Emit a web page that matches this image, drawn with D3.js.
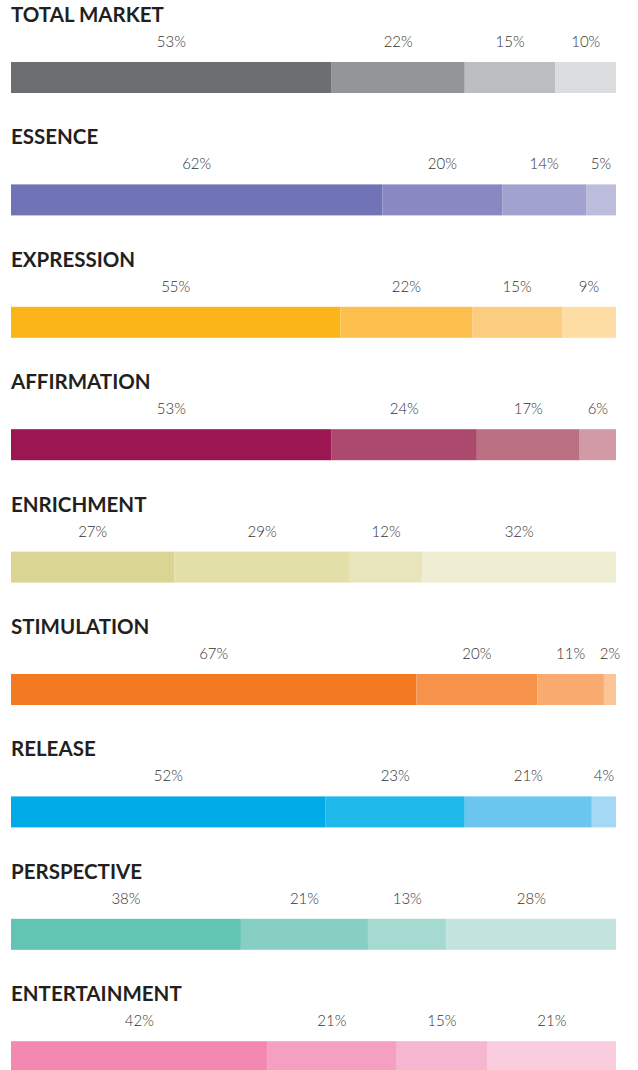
<!DOCTYPE html>
<html>
<head>
<meta charset="utf-8">
<script src="https://cdn.jsdelivr.net/npm/d3@7"></script>
<style>
  html, body { margin: 0; padding: 0; background: #ffffff; }
  svg { display: block; }
  .title { font-family: Lato, "Open Sans", sans-serif; font-weight: 700; font-size: 20.5px; fill: #231f20; }
  .pct { font-family: Lato, "Open Sans", sans-serif; font-weight: 300; font-size: 15px; fill: #333333; }
</style>
</head>
<body>
<svg id="chart" width="638" height="1070"></svg>
<script>
// Segment shares per category (percent), in stacking order
const categories = ["TOTAL MARKET", "ESSENCE", "EXPRESSION", "AFFIRMATION", "ENRICHMENT",
                    "STIMULATION", "RELEASE", "PERSPECTIVE", "ENTERTAINMENT"];
const totalMarket   = [53, 22, 15, 10];
const essence       = [62, 20, 14, 5];
const expression    = [55, 22, 15, 9];
const affirmation   = [53, 24, 17, 6];
const enrichment    = [27, 29, 12, 32];
const stimulation   = [67, 20, 11, 2];
const release       = [52, 23, 21, 4];
const perspective   = [38, 21, 13, 28];
const entertainment = [42, 21, 15, 21];

const palettes = [
  ["#6d6e72", "#949599", "#bcbdc0", "#dcdddf"],
  ["#7073b5", "#8988c2", "#a1a2cf", "#bcbddd"],
  ["#fbb519", "#fdbf4d", "#fdcd7f", "#fedda4"],
  ["#9c1652", "#ab4a6c", "#bb7084", "#d19aa6"],
  ["#dad592", "#e3dfa8", "#e8e5bd", "#efedd1"],
  ["#f47a21", "#f6924a", "#f8aa6f", "#fbc597"],
  ["#00abe7", "#1eb8ea", "#6ac5ef", "#a4d8f4"],
  ["#62c5b4", "#87cfc3", "#a5dad1", "#c3e4de"],
  ["#f389b0", "#f5a0c0", "#f7b6cf", "#f9cddd"]
];

const series = [totalMarket, essence, expression, affirmation, enrichment,
                stimulation, release, perspective, entertainment];

const svg = d3.select("#chart");
const barLeft = 11, barRight = 616, barHeight = 31;

// Vertical placement of each category block (top of its bar)
const rowY = d3.scaleLinear().domain([0, categories.length - 1]).range([62, 62 + 122.4 * 8]);

categories.forEach((name, i) => {
  const vals = series[i];
  const total = d3.sum(vals);
  const x = d3.scaleLinear().domain([0, total]).range([barLeft, barRight]);
  const starts = d3.cumsum([0].concat(vals)).slice(0, vals.length);
  const segs = vals.map((v, j) => ({ v, s: starts[j], c: palettes[i][j] }));
  const top = rowY(i);

  const g = svg.append("g");

  g.append("text")
    .attr("class", "title")
    .attr("x", barLeft)
    .attr("y", top - 40)
    .text(name);

  g.selectAll("rect")
    .data(segs)
    .join("rect")
    .attr("x", d => x(d.s))
    .attr("y", top)
    .attr("width", d => x(d.s + d.v) - x(d.s))
    .attr("height", barHeight)
    .attr("fill", d => d.c);

  g.selectAll("text.pct")
    .data(segs)
    .join("text")
    .attr("class", "pct")
    .attr("text-anchor", "middle")
    .attr("x", d => Math.min(x(d.s + d.v / 2), 614))
    .attr("y", top - 15)
    .text(d => d.v + "%");
});
</script>
</body>
</html>
